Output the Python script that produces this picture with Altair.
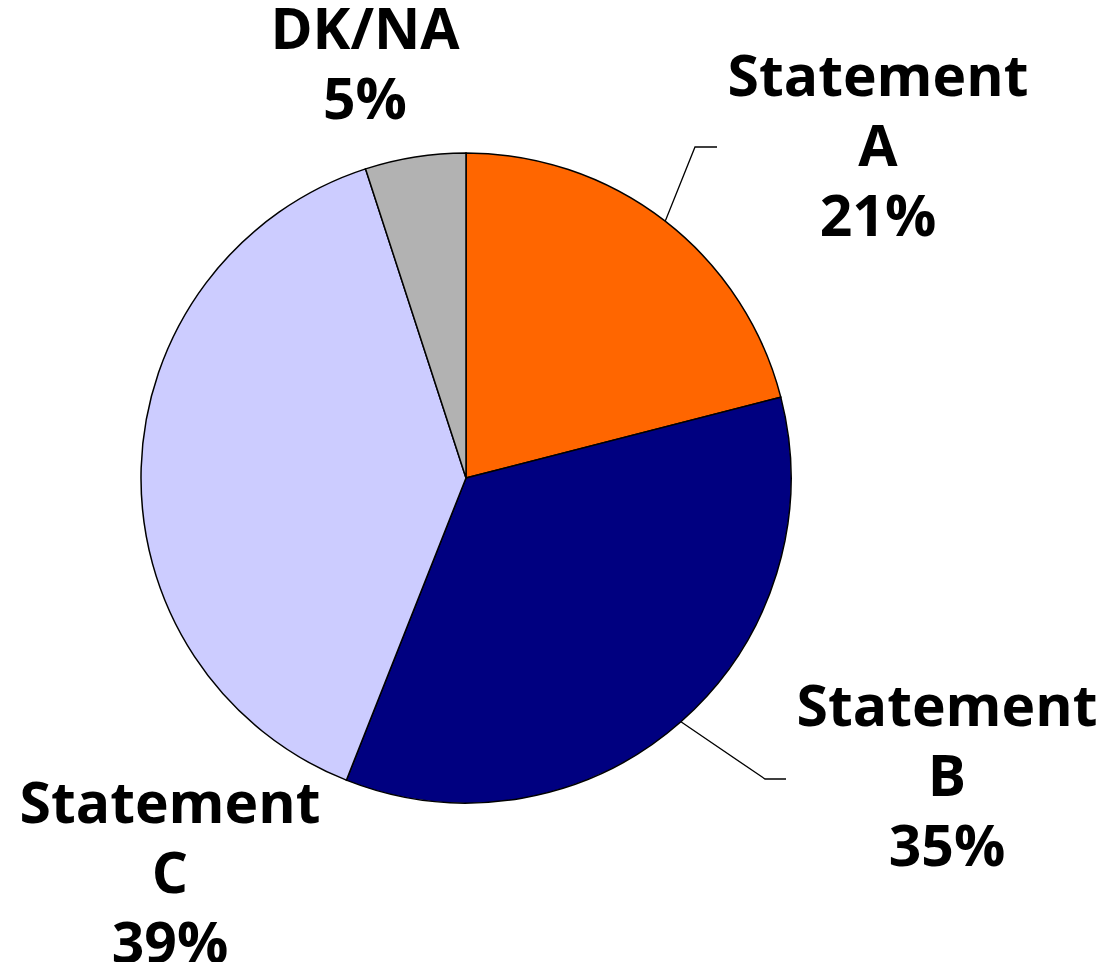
import math
import altair as alt
import pandas as pd

# ---- data ----
categories = ["Statement A", "Statement B", "Statement C", "DK/NA"]
values = [21, 35, 39, 5]
colors = ["#FF6600", "#000080", "#CCCCFF", "#B2B2B2"]

# ---- layout (pixels, chart coordinates) ----
W, H = 1104, 954
CX, CY, R = 458, 470, 325
# position of the first line of each label (centre)
label_pos = {
    "Statement A": (870, 71),
    "Statement B": (939, 701),
    "Statement C": (162, 798),
    "DK/NA": (357, 24),
}
# leader lines: elbow point and end point for labels that have one
leaders = {
    "Statement A": [(687, 139), (709, 139)],
    "Statement B": [(757, 771), (778, 771)],
}
FONT = "Open Sans"
FS = 57

pie_df = pd.DataFrame({
    "category": categories,
    "value": values,
    "order": list(range(len(categories))),
})

labels = []
for c, v in zip(categories, values):
    txt = c.replace(" ", "\n") + "\n" + f"{v}%"
    x, y = label_pos[c]
    labels.append({"category": c, "text": txt, "x": x, "y": y})
label_df = pd.DataFrame(labels)

total = sum(values)
rows = []
cum = 0
for c, v in zip(categories, values):
    mid = 2 * math.pi * (cum + v / 2) / total
    cum += v
    if c in leaders:
        pts = [(CX + R * math.sin(mid), CY - R * math.cos(mid))] + leaders[c]
        for i, (px, py) in enumerate(pts):
            rows.append({"category": c, "i": i, "x": px, "y": py})
line_df = pd.DataFrame(rows)

pie = alt.Chart(pie_df).mark_arc(
    outerRadius=R, stroke="black", strokeWidth=1.5
).encode(
    theta=alt.Theta("value:Q", stack=True),
    color=alt.Color("category:N", scale=alt.Scale(domain=categories, range=colors), legend=None),
    order=alt.Order("order:Q"),
    x=alt.value(CX),
    y=alt.value(CY),
)

lines = alt.Chart(line_df).mark_line(color="black", strokeWidth=1.3).encode(
    x=alt.X("x:Q", scale=None),
    y=alt.Y("y:Q", scale=None),
    detail="category:N",
    order="i:Q",
)

text = alt.Chart(label_df).mark_text(
    font=FONT, fontSize=FS, fontWeight="bold", color="black",
    align="center", baseline="middle", lineBreak="\n", lineHeight=70,
).encode(
    x=alt.X("x:Q", scale=None),
    y=alt.Y("y:Q", scale=None),
    text="text:N",
)

chart = alt.layer(pie, lines, text).properties(
    width=W, height=H, padding=0,
    autosize=alt.AutoSizeParams(type="none"),
).configure_view(stroke=None)

chart.save("out.html", embed_options={"renderer": "svg", "actions": False})
